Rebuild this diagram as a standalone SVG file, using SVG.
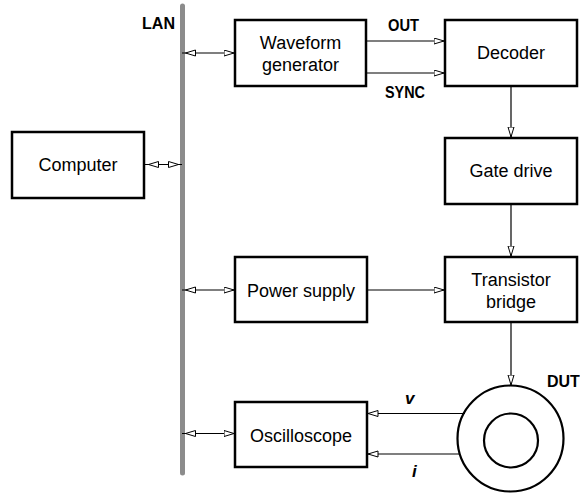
<svg xmlns="http://www.w3.org/2000/svg" width="580" height="496" viewBox="0 0 580 496">
<style>
.box{fill:#fff;stroke:#000;stroke-width:2.5}
.lbl{font-family:"Liberation Sans",Arial,sans-serif;font-size:18px;text-anchor:middle;fill:#000}
.tag{font-family:"Liberation Sans",Arial,sans-serif;font-size:16px;font-weight:bold;fill:#000}
.sig{font-family:"Liberation Sans",Arial,sans-serif;font-size:17px;font-weight:bold;font-style:italic;fill:#000}
.wire{fill:none;stroke:#000;stroke-width:1.2}
.ring{fill:none;stroke:#000;stroke-width:2.2}
</style>
<defs>
<marker id="arr" markerUnits="userSpaceOnUse" markerWidth="12" markerHeight="9" refX="10.5" refY="3.5" orient="auto">
<path d="M0.5,0.5 L10.5,3.5 L0.5,6.5 z" fill="#fff" stroke="#000" stroke-width="1"/>
</marker>
<marker id="arrL" markerUnits="userSpaceOnUse" markerWidth="16" markerHeight="9" refX="14" refY="3.5" orient="auto-start-reverse">
<path d="M0.5,0.5 L10.5,3.5 L0.5,6.5 z" fill="#fff" stroke="#000" stroke-width="1"/>
</marker>
</defs>

<g id="lan">
<line x1="182.5" y1="6" x2="182.5" y2="473" stroke="#8c8c8c" stroke-width="5" stroke-linecap="round"/>
<text class="tag" x="142" y="29" font-size="15" textLength="33" lengthAdjust="spacingAndGlyphs">LAN</text>
</g>

<g id="connectors">
<line class="wire" x1="182" y1="53" x2="234" y2="53" marker-start="url(#arrL)" marker-end="url(#arr)"/>
<line class="wire" x1="145" y1="164.5" x2="182" y2="164.5" marker-start="url(#arrL)" marker-end="url(#arrL)"/>
<line class="wire" x1="182" y1="290" x2="234" y2="290" marker-start="url(#arrL)" marker-end="url(#arr)"/>
<line class="wire" x1="182" y1="433.5" x2="234" y2="433.5" marker-start="url(#arrL)" marker-end="url(#arr)"/>
<line class="wire" x1="367" y1="41" x2="444" y2="41" marker-end="url(#arr)"/>
<line class="wire" x1="367" y1="73" x2="444" y2="73" marker-end="url(#arr)"/>
<line class="wire" x1="511" y1="86" x2="511" y2="137" marker-end="url(#arr)"/>
<line class="wire" x1="511" y1="204" x2="511" y2="256" marker-end="url(#arr)"/>
<line class="wire" x1="367" y1="290" x2="444" y2="290" marker-end="url(#arr)"/>
<line class="wire" x1="511" y1="322" x2="511" y2="385" marker-end="url(#arr)"/>
<line class="wire" x1="465" y1="413.5" x2="368" y2="413.5" marker-end="url(#arr)"/>
<line class="wire" x1="459" y1="454" x2="368" y2="454" marker-end="url(#arr)"/>
<text class="tag" x="388" y="30.7" textLength="31" lengthAdjust="spacingAndGlyphs">OUT</text>
<text class="tag" x="385" y="98" textLength="40" lengthAdjust="spacingAndGlyphs">SYNC</text>
<text class="sig" x="405" y="404">v</text>
<text class="sig" x="412" y="477">i</text>
</g>

<g id="computer">
<rect class="box" x="12" y="132" width="132" height="66"/>
<text class="lbl" x="78" y="171">Computer</text>
</g>

<g id="waveform-generator">
<rect class="box" x="235" y="20" width="131" height="66"/>
<text class="lbl" x="300.5" y="48.5">Waveform</text>
<text class="lbl" x="300.5" y="70.5">generator</text>
</g>

<g id="decoder">
<rect class="box" x="445" y="20" width="132" height="66"/>
<text class="lbl" x="511" y="58.5">Decoder</text>
</g>

<g id="gate-drive">
<rect class="box" x="445" y="138" width="132" height="66"/>
<text class="lbl" x="511" y="177">Gate drive</text>
</g>

<g id="power-supply">
<rect class="box" x="235" y="257" width="132" height="65"/>
<text class="lbl" x="301" y="296.5">Power supply</text>
</g>

<g id="transistor-bridge">
<rect class="box" x="445" y="257" width="132" height="65"/>
<text class="lbl" x="511" y="286">Transistor</text>
<text class="lbl" x="511" y="308">bridge</text>
</g>

<g id="oscilloscope">
<rect class="box" x="235" y="402" width="132" height="65"/>
<text class="lbl" x="301" y="441.5">Oscilloscope</text>
</g>

<g id="dut">
<circle class="ring" cx="510.5" cy="438.5" r="53"/>
<circle class="ring" cx="511" cy="440.5" r="27"/>
<text class="tag" x="547" y="387">DUT</text>
</g>
</svg>
